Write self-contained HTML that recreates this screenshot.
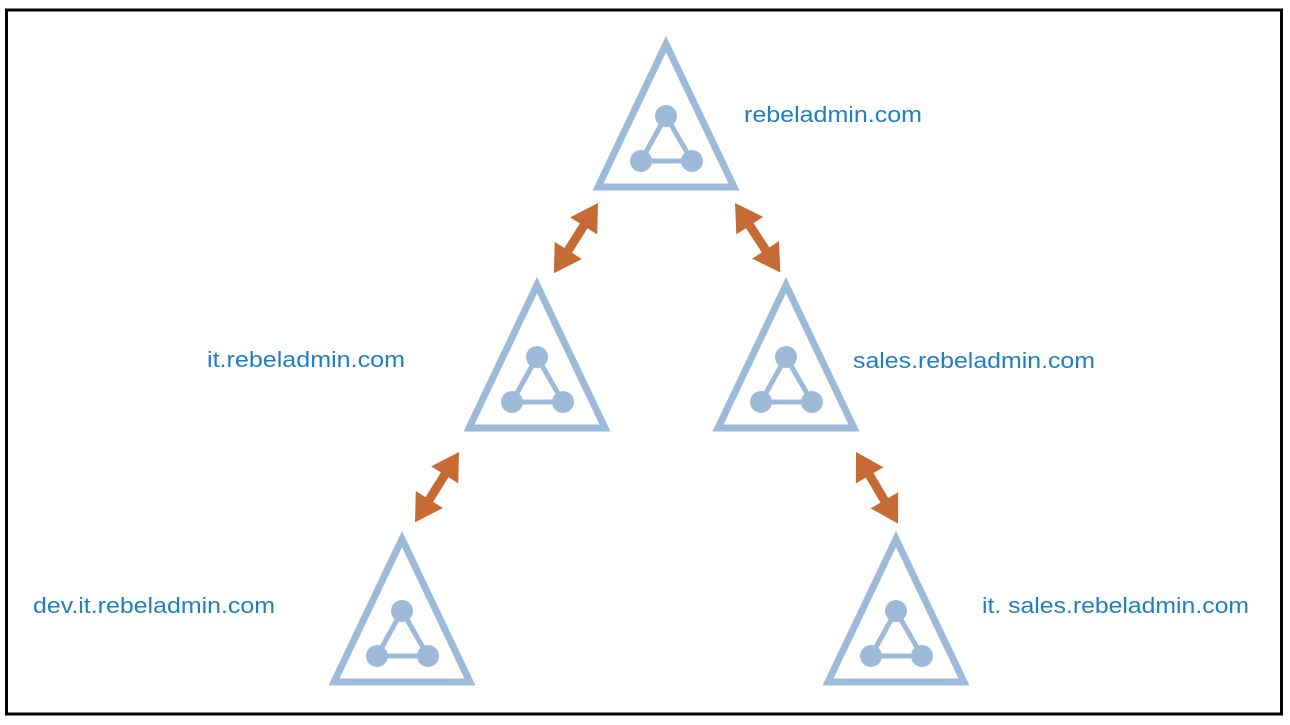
<!DOCTYPE html>
<html><head><meta charset="utf-8"><style>
html,body{margin:0;padding:0;background:#fff;}
svg{display:block;}
text{font-family:"Liberation Sans",sans-serif;font-size:22px;fill:#1f7fc4;}
</style></head><body>
<svg width="1290" height="725" viewBox="0 0 1290 725" xmlns="http://www.w3.org/2000/svg">
<defs>
<g id="tri">
<polygon points="0,4 -68,147 68,147" fill="none" stroke="#9dbbd8" stroke-width="7" stroke-linejoin="miter"/>
<polygon points="0,76 -25,121 26,121" fill="none" stroke="#9dbbd8" stroke-width="5"/>
<circle cx="0" cy="76" r="11" fill="#9dbbd8"/>
<circle cx="-25" cy="121" r="11" fill="#9dbbd8"/>
<circle cx="26" cy="121" r="11" fill="#9dbbd8"/>
</g>
<polygon id="arr" points="0,0 27,-16 27,-4.5 56,-4.5 56,-16 83,0 56,16 56,4.5 27,4.5 27,16" fill="#c76b35"/>
</defs>
<rect x="6.5" y="10" width="1275" height="704" fill="none" stroke="#000" stroke-width="3"/>
<use href="#tri" x="666" y="40"/>
<use href="#tri" x="537" y="281"/>
<use href="#tri" x="786" y="281"/>
<use href="#tri" x="402" y="535"/>
<use href="#tri" x="896" y="535"/>
<use href="#arr" transform="translate(598,203) rotate(122.1)"/>
<use href="#arr" transform="translate(735,203) rotate(56.9)"/>
<use href="#arr" transform="translate(459,452) rotate(122)"/>
<use href="#arr" transform="translate(856,452) rotate(59.6)"/>
<text x="744" y="122" textLength="178" lengthAdjust="spacingAndGlyphs">rebeladmin.com</text>
<text x="207" y="367" textLength="198" lengthAdjust="spacingAndGlyphs">it.rebeladmin.com</text>
<text x="853" y="368" textLength="242" lengthAdjust="spacingAndGlyphs">sales.rebeladmin.com</text>
<text x="33" y="613" textLength="242" lengthAdjust="spacingAndGlyphs">dev.it.rebeladmin.com</text>
<text x="982" y="613" textLength="267" lengthAdjust="spacingAndGlyphs">it. sales.rebeladmin.com</text>
</svg>
</body></html>
